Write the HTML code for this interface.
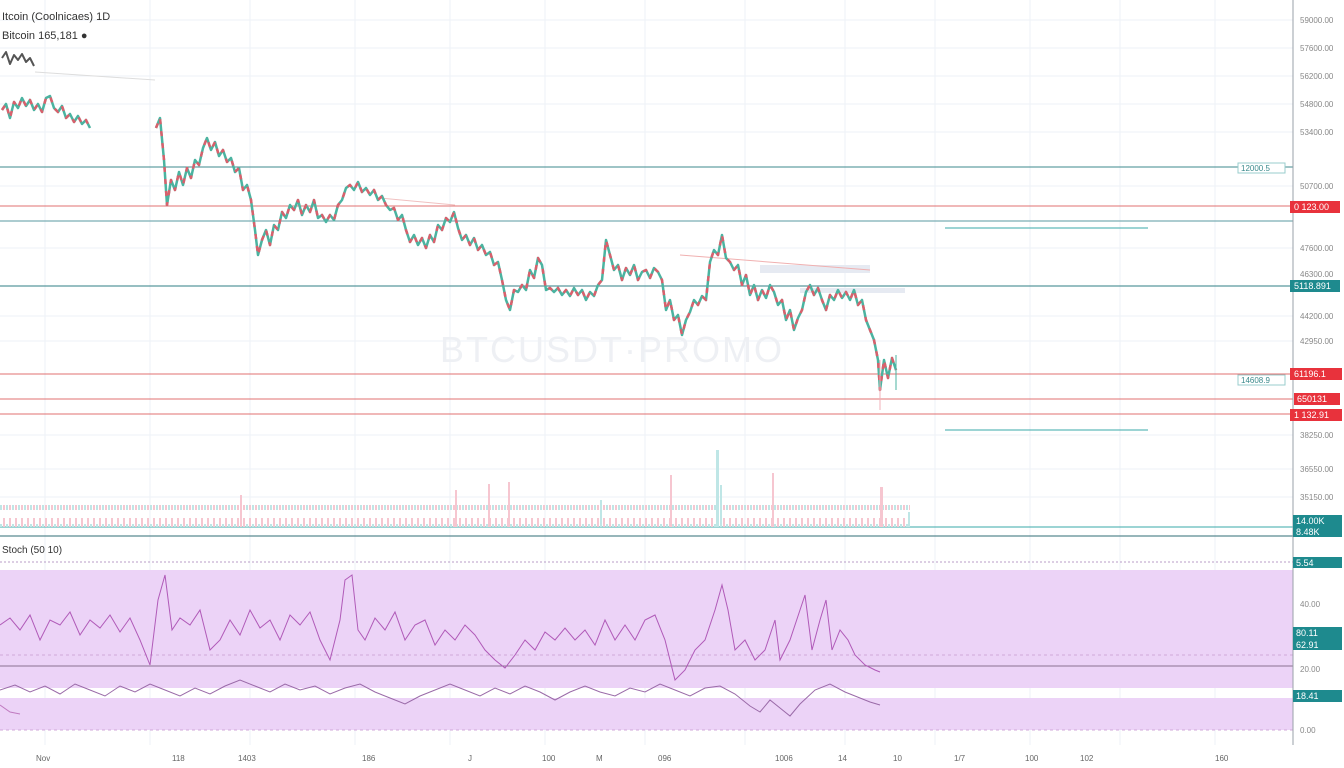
<!DOCTYPE html>
<html><head><meta charset="utf-8"><style>
body{margin:0;background:#fff;overflow:hidden}
svg{display:block}
text{font-family:"Liberation Sans",sans-serif}
</style></head><body>
<svg width="1344" height="768" viewBox="0 0 1344 768" xmlns="http://www.w3.org/2000/svg">
<defs>
<pattern id="vp" x="0" y="0" width="6" height="30" patternUnits="userSpaceOnUse">
<rect x="0" y="14" width="2" height="16" fill="#bfe6e6"/><rect x="3" y="8" width="2" height="22" fill="#f6c6d0"/>
</pattern>
</defs>
<rect width="1344" height="768" fill="#fff"/>
<g stroke="#eef2f7" stroke-width="1">
<line x1="45" y1="0" x2="45" y2="745"/><line x1="150" y1="0" x2="150" y2="745"/><line x1="250" y1="0" x2="250" y2="745"/><line x1="355" y1="0" x2="355" y2="745"/><line x1="450" y1="0" x2="450" y2="745"/><line x1="545" y1="0" x2="545" y2="745"/><line x1="645" y1="0" x2="645" y2="745"/><line x1="745" y1="0" x2="745" y2="745"/><line x1="845" y1="0" x2="845" y2="745"/><line x1="935" y1="0" x2="935" y2="745"/><line x1="1030" y1="0" x2="1030" y2="745"/><line x1="1120" y1="0" x2="1120" y2="745"/><line x1="1215" y1="0" x2="1215" y2="745"/>
<line x1="0" y1="20" x2="1293" y2="20"/><line x1="0" y1="48" x2="1293" y2="48"/><line x1="0" y1="76" x2="1293" y2="76"/><line x1="0" y1="104" x2="1293" y2="104"/><line x1="0" y1="132" x2="1293" y2="132"/><line x1="0" y1="186" x2="1293" y2="186"/><line x1="0" y1="248" x2="1293" y2="248"/><line x1="0" y1="316" x2="1293" y2="316"/><line x1="0" y1="341" x2="1293" y2="341"/><line x1="0" y1="435" x2="1293" y2="435"/><line x1="0" y1="469" x2="1293" y2="469"/><line x1="0" y1="497" x2="1293" y2="497"/>
</g>
<rect x="0" y="570" width="1293" height="118" fill="#ecd3f7"/>
<rect x="0" y="698" width="1293" height="32" fill="#ecd3f7"/>
<line x1="0" y1="562" x2="1293" y2="562" stroke="#b89cc7" stroke-dasharray="2,2"/>
<line x1="0" y1="666" x2="1293" y2="666" stroke="#8a7090"/>
<line x1="0" y1="655" x2="1293" y2="655" stroke="#d0a8d8" stroke-dasharray="3,3"/>
<line x1="0" y1="730" x2="1293" y2="730" stroke="#d0a8d8" stroke-dasharray="3,3"/>
<g fill="none" stroke-width="1">
<path stroke="#b05ab8" d="M0,625 L10,618 L20,630 L30,615 L40,640 L50,620 L60,625 L70,612 L80,635 L90,620 L100,628 L110,615 L120,632 L130,618 L140,640 L150,665 L158,600 L165,575 L172,630 L180,618 L190,625 L200,610 L210,650 L220,640 L230,620 L240,635 L250,610 L260,628 L270,620 L280,640 L290,615 L300,625 L310,612 L320,640 L330,660 L340,620 L345,580 L352,575 L358,630 L365,640 L375,618 L385,630 L395,612 L405,640 L415,625 L425,620 L435,645 L445,630 L455,640 L465,625 L475,635 L485,650 L495,660 L505,668 L515,655 L525,640 L535,650 L545,632 L555,640 L565,628 L575,640 L585,630 L595,645 L605,620 L615,640 L625,625 L635,640 L645,620 L655,615 L665,640 L675,680 L685,670 L695,650 L705,640 L715,610 L722,585 L728,610 L735,650 L745,640 L755,660 L765,650 L775,620 L780,660 L790,640 L800,610 L805,595 L812,650 L820,620 L826,600 L832,650 L840,630 L848,640 L855,655 L865,665 L875,670 L880,672"/>
<path stroke="#9a6aa8" d="M0,690 L15,685 L30,692 L45,686 L60,694 L75,684 L90,690 L105,696 L120,686 L135,692 L150,684 L165,690 L180,696 L195,688 L210,694 L225,686 L240,680 L255,686 L270,692 L285,684 L300,690 L315,686 L330,694 L345,688 L360,684 L375,692 L390,698 L405,704 L420,696 L435,690 L450,684 L465,690 L480,696 L495,688 L510,694 L525,686 L540,692 L555,700 L570,692 L585,686 L600,692 L615,696 L630,688 L645,692 L660,684 L675,690 L690,696 L705,688 L720,686 L735,694 L750,706 L760,712 L770,700 L780,708 L790,716 L800,704 L815,690 L830,684 L845,692 L860,698 L870,702 L880,705"/>
<path stroke="#c07ac0" d="M0,705 L10,712 L20,714"/>
</g>
<g stroke-width="1">
<line x1="0" y1="167" x2="1293" y2="167" stroke="#3c8a8c"/>
<line x1="0" y1="206" x2="1293" y2="206" stroke="#e07070"/>
<line x1="0" y1="221" x2="1293" y2="221" stroke="#5a9aa0"/>
<line x1="0" y1="286" x2="1293" y2="286" stroke="#2f7f86"/>
<line x1="0" y1="374" x2="1293" y2="374" stroke="#e07070"/>
<line x1="0" y1="399" x2="1293" y2="399" stroke="#e07070"/>
<line x1="0" y1="414" x2="1293" y2="414" stroke="#e07070"/>
<line x1="0" y1="527" x2="1293" y2="527" stroke="#3aa8a8"/>
<line x1="0" y1="536" x2="1293" y2="536" stroke="#2f6d75"/>
<line x1="945" y1="228" x2="1148" y2="228" stroke="#3aa8a8"/>
<line x1="945" y1="430" x2="1148" y2="430" stroke="#3aa8a8"/>
<line x1="1293" y1="0" x2="1293" y2="745" stroke="#9aa0a8"/>
</g>
<text x="440" y="362" font-size="36" fill="#eef0f4" letter-spacing="2">BTCUSDT·PROMO</text>
<rect x="0" y="505" width="910" height="22" fill="url(#vp)"/>
<g fill="#f6c6d0"><rect x="240" y="495" width="2" height="32"/><rect x="455" y="490" width="2" height="37"/><rect x="488" y="484" width="2" height="43"/><rect x="508" y="482" width="2" height="45"/><rect x="670" y="475" width="2" height="52"/><rect x="772" y="473" width="2" height="54"/><rect x="880" y="487" width="3" height="40"/></g>
<g fill="#bfe6e6"><rect x="716" y="450" width="3" height="77"/><rect x="720" y="485" width="2" height="42"/><rect x="908" y="512" width="2" height="15"/><rect x="600" y="500" width="2" height="27"/></g>
<rect x="760" y="265" width="110" height="8" fill="#e6eaf2"/>
<rect x="800" y="288" width="105" height="5" fill="#e6eaf2"/>
<line x1="35" y1="72" x2="155" y2="80" stroke="#ddd"/>
<line x1="380" y1="198" x2="455" y2="205" stroke="#f0c0c0"/>
<line x1="680" y1="255" x2="870" y2="270" stroke="#f0b0b0"/>
<g fill="none" stroke-linejoin="round">
<path id="pp" d="M2,110 L6,104 L10,118 L14,102 L18,108 L22,98 L26,106 L30,100 L34,110 L38,104 L42,112 L46,98 L50,96 L54,108 L58,112 L62,106 L66,118 L70,114 L74,122 L78,116 L82,124 L86,120 L90,128 M156,128 L160,118 L164,160 L167,205 L171,180 L175,190 L179,172 L183,185 L187,168 L191,178 L195,160 L199,165 L203,148 L207,138 L211,150 L215,142 L219,156 L223,150 L227,162 L231,158 L235,172 L239,168 L243,190 L247,185 L251,200 L255,230 L258,255 L262,240 L266,230 L270,245 L274,225 L278,230 L282,212 L286,218 L290,205 L294,210 L298,200 L302,215 L306,205 L310,212 L314,200 L318,218 L322,215 L326,222 L330,215 L334,220 L338,205 L342,200 L346,188 L350,185 L354,190 L358,182 L362,192 L366,188 L370,195 L374,190 L378,200 L382,196 L386,205 L390,210 L394,208 L398,220 L402,215 L406,230 L410,242 L414,235 L418,245 L422,238 L426,248 L430,235 L434,242 L438,225 L442,230 L446,218 L450,222 L454,212 L458,228 L462,240 L466,235 L470,245 L474,238 L478,250 L482,245 L486,255 L490,252 L494,265 L498,262 L502,280 L506,300 L510,310 L514,290 L518,292 L522,285 L526,290 L530,270 L534,278 L538,258 L542,265 L546,290 L550,288 L554,292 L558,288 L562,295 L566,290 L570,296 L574,288 L578,295 L582,290 L586,300 L590,292 L594,296 L598,285 L602,280 L606,240 L610,255 L614,270 L618,265 L622,280 L626,268 L630,275 L634,265 L638,280 L642,272 L646,270 L650,278 L654,268 L658,272 L662,280 L666,310 L670,300 L674,320 L678,315 L682,335 L686,320 L690,312 L694,300 L698,305 L702,296 L706,300 L710,262 L714,250 L718,255 L722,235 L726,258 L730,262 L734,270 L738,265 L742,285 L746,275 L750,295 L754,285 L758,300 L762,290 L766,298 L770,285 L774,292 L778,305 L782,300 L786,320 L790,310 L794,330 L798,318 L802,310 L806,292 L810,285 L814,295 L818,288 L822,300 L826,310 L830,295 L834,300 L838,290 L842,298 L846,292 L850,300 L854,290 L858,305 L862,300 L866,320 L870,330 L874,340 L878,360 L880,390 L884,360 L888,378 L892,358 L896,370" stroke="#4bb3a0" stroke-width="2.5"/>
<path d="M2,110 L6,104 L10,118 L14,102 L18,108 L22,98 L26,106 L30,100 L34,110 L38,104 L42,112 L46,98 L50,96 L54,108 L58,112 L62,106 L66,118 L70,114 L74,122 L78,116 L82,124 L86,120 L90,128 M156,128 L160,118 L164,160 L167,205 L171,180 L175,190 L179,172 L183,185 L187,168 L191,178 L195,160 L199,165 L203,148 L207,138 L211,150 L215,142 L219,156 L223,150 L227,162 L231,158 L235,172 L239,168 L243,190 L247,185 L251,200 L255,230 L258,255 L262,240 L266,230 L270,245 L274,225 L278,230 L282,212 L286,218 L290,205 L294,210 L298,200 L302,215 L306,205 L310,212 L314,200 L318,218 L322,215 L326,222 L330,215 L334,220 L338,205 L342,200 L346,188 L350,185 L354,190 L358,182 L362,192 L366,188 L370,195 L374,190 L378,200 L382,196 L386,205 L390,210 L394,208 L398,220 L402,215 L406,230 L410,242 L414,235 L418,245 L422,238 L426,248 L430,235 L434,242 L438,225 L442,230 L446,218 L450,222 L454,212 L458,228 L462,240 L466,235 L470,245 L474,238 L478,250 L482,245 L486,255 L490,252 L494,265 L498,262 L502,280 L506,300 L510,310 L514,290 L518,292 L522,285 L526,290 L530,270 L534,278 L538,258 L542,265 L546,290 L550,288 L554,292 L558,288 L562,295 L566,290 L570,296 L574,288 L578,295 L582,290 L586,300 L590,292 L594,296 L598,285 L602,280 L606,240 L610,255 L614,270 L618,265 L622,280 L626,268 L630,275 L634,265 L638,280 L642,272 L646,270 L650,278 L654,268 L658,272 L662,280 L666,310 L670,300 L674,320 L678,315 L682,335 L686,320 L690,312 L694,300 L698,305 L702,296 L706,300 L710,262 L714,250 L718,255 L722,235 L726,258 L730,262 L734,270 L738,265 L742,285 L746,275 L750,295 L754,285 L758,300 L762,290 L766,298 L770,285 L774,292 L778,305 L782,300 L786,320 L790,310 L794,330 L798,318 L802,310 L806,292 L810,285 L814,295 L818,288 L822,300 L826,310 L830,295 L834,300 L838,290 L842,298 L846,292 L850,300 L854,290 L858,305 L862,300 L866,320 L870,330 L874,340 L878,360 L880,390 L884,360 L888,378 L892,358 L896,370" stroke="#d9606c" stroke-width="2.5" stroke-dasharray="5,7"/>
<path d="M2,58 L6,52 L10,64 L14,55 L18,60 L22,54 L26,62 L30,58 L34,66" stroke="#555" stroke-width="2"/>
<line x1="880" y1="360" x2="880" y2="410" stroke="#f0b0b8"/>
<line x1="896" y1="355" x2="896" y2="390" stroke="#4bb3a0"/>
</g>
<text x="2" y="20" font-size="11" fill="#333">Itcoin (Coolnicaes) 1D</text>
<text x="2" y="39" font-size="11" fill="#333">Bitcoin 165,181 ●</text>
<text x="2" y="553" font-size="10" fill="#333">Stoch (50 10)</text>
<g font-size="8" fill="#888">
<text x="1300" y="23">59000.00</text><text x="1300" y="51">57600.00</text><text x="1300" y="79">56200.00</text><text x="1300" y="107">54800.00</text><text x="1300" y="135">53400.00</text><text x="1300" y="189">50700.00</text><text x="1300" y="251">47600.00</text><text x="1300" y="277">46300.00</text><text x="1300" y="319">44200.00</text><text x="1300" y="344">42950.00</text><text x="1300" y="438">38250.00</text><text x="1300" y="472">36550.00</text><text x="1300" y="500">35150.00</text><text x="1300" y="607">40.00</text><text x="1300" y="672">20.00</text><text x="1300" y="733">0.00</text>
</g>
<g font-size="9" fill="#fff">
<rect x="1290" y="201" width="50" height="12" fill="#e8323c"/><text x="1294" y="210">0 123.00</text>
<rect x="1290" y="280" width="50" height="12" fill="#1e8a8e"/><text x="1294" y="289">5118.891</text>
<rect x="1290" y="368" width="52" height="12" fill="#e8323c"/><text x="1294" y="377">61196.1</text>
<rect x="1294" y="393" width="46" height="12" fill="#e8323c"/><text x="1297" y="402">650131</text>
<rect x="1290" y="409" width="52" height="12" fill="#e8323c"/><text x="1294" y="418">1 132.91</text>
<rect x="1293" y="515" width="49" height="12" fill="#1e8a8e"/><text x="1296" y="524">14.00K</text>
<rect x="1293" y="527" width="49" height="10" fill="#1e8a8e"/><text x="1296" y="535">8.48K</text>
<rect x="1293" y="557" width="49" height="11" fill="#1e8a8e"/><text x="1296" y="566">5.54</text>
<rect x="1293" y="627" width="49" height="12" fill="#1e8a8e"/><text x="1296" y="636">80.11</text>
<rect x="1293" y="639" width="49" height="11" fill="#1e8a8e"/><text x="1296" y="648">62.91</text>
<rect x="1293" y="690" width="49" height="12" fill="#1e8a8e"/><text x="1296" y="699">18.41</text>
</g>
<g font-size="8" fill="#3a8a8c">
<rect x="1238" y="163" width="47" height="10" fill="#fff" stroke="#9cc"/><text x="1241" y="171">12000.5</text>
<rect x="1238" y="375" width="47" height="10" fill="#fff" stroke="#9cc"/><text x="1241" y="383">14608.9</text>
</g>
<g font-size="8" fill="#666">
<text x="36" y="761">Nov</text><text x="172" y="761">118</text><text x="238" y="761">1403</text>
<text x="362" y="761">186</text><text x="468" y="761">J</text><text x="542" y="761">100</text>
<text x="596" y="761">M</text><text x="658" y="761">096</text><text x="775" y="761">1006</text>
<text x="838" y="761">14</text><text x="893" y="761">10</text><text x="954" y="761">1/7</text>
<text x="1025" y="761">100</text><text x="1080" y="761">102</text><text x="1215" y="761">160</text>
</g>
</svg>
</body></html>
